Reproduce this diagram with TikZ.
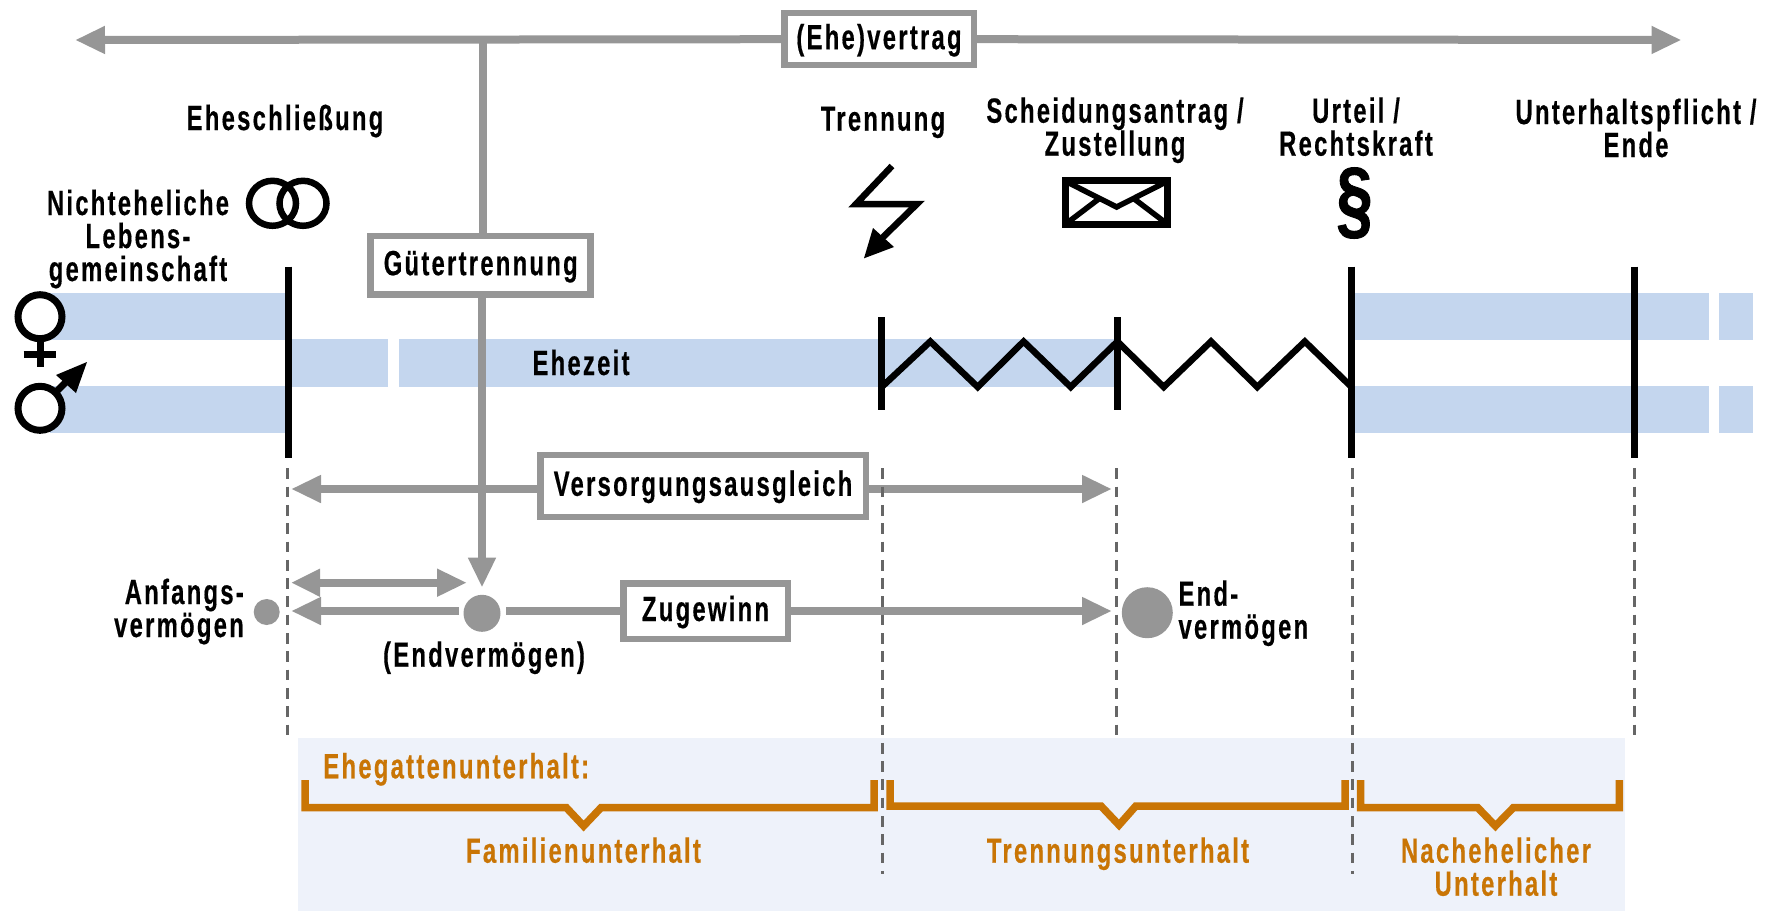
\documentclass[tikz,border=0pt]{standalone}
\usepackage{fontspec}
\usetikzlibrary{arrows.meta}
\newfontfamily\lab[FakeStretch=0.68,LetterSpace=6.5,FakeBold=0.4]{Liberation Sans}
\newfontfamily\para[FakeStretch=0.74,FakeBold=1]{Liberation Sans}
\definecolor{gr}{HTML}{969696}
\definecolor{dk}{HTML}{666666}
\definecolor{bl}{HTML}{C4D6EE}
\definecolor{lb}{HTML}{EEF2FA}
\definecolor{or}{HTML}{C97505}
\newcommand\fl{\rule{0pt}{26pt}}
\tikzset{
  txt/.style={inner sep=0pt,outer sep=0pt,align=center,anchor=north,font={\lab\bfseries\fontsize{35}{33}\selectfont}},
  otxt/.style={txt,text=or},
  box/.style={draw=gr,line width=6.5pt,fill=white,inner sep=0pt,text height=26pt,text depth=6pt,font={\lab\bfseries\fontsize{35}{33}\selectfont}},
  arr/.style={draw=gr,line width=8pt,-{Triangle[length=30pt,width=26pt]}},
  plain/.style={draw=gr,line width=8pt},
  dot/.style={circle,fill=gr,inner sep=0pt},
  band/.style={fill=bl,draw=none},
  blk/.style={draw=black,line width=7pt},
  zig/.style={draw=black,line width=6.5pt,miter limit=10},
  dsh/.style={draw=dk,line width=3pt,dash pattern=on 10.7pt off 7.6pt},
  brc/.style={draw=or,line width=7.5pt,miter limit=10},
  sym/.style={draw=black,line width=6.5pt},
}
\begin{document}
\begin{tikzpicture}[x=1pt,y=-1pt]
\useasboundingbox (0,0) rectangle (1767,911);
% background
\fill[lb] (298,737.7) rectangle (1625,911);
\fill[band] (50,292.7) rectangle (286,340);
\fill[band] (50,386) rectangle (286,433.3);
\fill[band] (290,339) rectangle (388,387.3);
\fill[band] (399,339) rectangle (1117,387.3);
\fill[band] (1354.5,292.7) rectangle (1708.5,340);
\fill[band] (1719,292.7) rectangle (1752.5,340);
\fill[band] (1354.5,386) rectangle (1708.5,433.3);
\fill[band] (1719,386) rectangle (1752.5,433.3);
% coordinates
\coordinate (topL) at (75,40);
\coordinate (topR) at (1681.5,40);
\coordinate (topJ) at (482.5,40);
\coordinate (vL) at (291,489);
\coordinate (vR) at (1112,489);
\coordinate (dA) at (291,582.7);
\coordinate (dB) at (467,582.7);
\coordinate (aT) at (291,611);
\coordinate (dL) at (458.5,611);
\coordinate (dR) at (506,611);
\coordinate (eT) at (1112,611);
% dashed guides
\coordinate (d1a) at (287.6,468.3); \coordinate (d1b) at (287.6,740);
\coordinate (d2a) at (882,468.3);   \coordinate (d2b) at (882,874);
\coordinate (d3a) at (1116.6,468.3);\coordinate (d3b) at (1116.6,740);
\coordinate (d4a) at (1352.6,468.3);\coordinate (d4b) at (1352.6,874);
\coordinate (d5a) at (1634.3,468.3);\coordinate (d5b) at (1634.3,740);
% dots
\node[dot,minimum size=37pt] (mid) at (482,613.3) {};
\node[dot,minimum size=26pt] (anf) at (266.7,612) {};
\node[dot,minimum size=51pt] (end) at (1147.3,612.7) {};
% grey boxes and connectors
\node[box,minimum width=189.5pt,minimum height=52pt] (ehe) at (879,39.2) {(Ehe)vertrag};
\node[box,minimum width=220pt,minimum height=58.5pt] (gue) at (480.7,265.2) {Gütertrennung};
\node[box,minimum width=325.5pt,minimum height=62pt] (ver) at (703,485.8) {Versorgungsausgleich};
\node[box,minimum width=164.5pt,minimum height=55.5pt] (zug) at (705.5,611) {Zugewinn};
\draw[arr] (ehe.west) -- (topL);
\draw[arr] (ehe.east) -- (topR);
\draw[plain] (topJ) -- (topJ |- gue.north);
\draw[arr,shorten >=7pt] (gue.south -| mid.north) -- (mid.north);
\draw[arr] (ver.west |- vL) -- (vL);
\draw[arr] (ver.east |- vR) -- (vR);
\draw[draw=gr,line width=8pt,{Triangle[length=29pt,width=26pt]}-{Triangle[length=30pt,width=26pt]}] (dA) -- (dB);
\draw[arr] (dL) -- (aT);
\draw[plain] (dR) -- (zug.west);
\draw[arr] (zug.east) -- (eT);
\draw[dsh] (d1a) -- (d1b);
\draw[dsh] (d2a) -- (d2b);
\draw[dsh] (d3a) -- (d3b);
\draw[dsh] (d4a) -- (d4b);
\draw[dsh] (d5a) -- (d5b);
% black markers
\draw[blk] (288,266.7) -- (288,458.3);
\draw[blk] (881.7,317.3) -- (881.7,410);
\draw[blk] (1117.4,317.3) -- (1117.4,410);
\draw[blk] (1351.5,266.7) -- (1351.5,458.3);
\draw[blk] (1634.7,266.7) -- (1634.7,458.3);
\draw[zig] (881.7,387) -- (930.3,341.5) -- (977.7,387) -- (1023.6,341.5) -- (1070.7,387) -- (1117.4,341.5) -- (1163.7,387) -- (1211,341.5) -- (1257.3,387) -- (1304.8,341.5) -- (1351.5,387);
% symbols
\draw[sym] (272.5,203.3) circle[x radius=23.5,y radius=22.5];
\draw[sym] (303,203.3) circle[x radius=23.5,y radius=22.5];
\draw[line width=7pt,fill=white] (40,316.7) circle[radius=22];
\draw[line width=7pt] (40,339) -- (40,366.7) (23.7,354) -- (55.5,354);
\draw[line width=7pt,fill=white] (40,408.3) circle[radius=22];
\draw[line width=7pt] (56,392) -- (70,378);
\fill (87,362) -- (56,375) -- (76,393) -- cycle;
\draw[sym,miter limit=10] (892,166) -- (856,204) -- (917,204) -- (878,242);
\fill (864,258.3) -- (873,228) -- (894,247) -- cycle;
\draw[line width=7pt] (1065.5,180.2) rectangle (1167.9,224.8);
\draw[line width=5.5pt] (1067,182) -- (1116.6,207) -- (1166,182);
\draw[line width=5.5pt] (1067,223) -- (1100,198) (1166,223) -- (1133,198);
\node[inner sep=0pt,anchor=center,font={\para\bfseries\fontsize{88}{88}\selectfont}] (para) at (1354.5,203) {§};
% labels
\node[txt] (t1) at (285,104) {\fl Eheschließung};
\node[txt] (t2) at (138,189) {\fl Nichteheliche\\Lebens-\\gemeinschaft};
\node[txt] (t3) at (581,349) {\fl Ehezeit};
\node[txt] (t4) at (883,104.7) {\fl Trennung};
\node[txt] (t5) at (1115,96.7) {\fl Scheidungsantrag /\\Zustellung};
\node[txt] (t6) at (1356,96.7) {\fl Urteil /\\Rechtskraft};
\node[txt] (t7) at (1636,98) {\fl Unterhaltspflicht /\\Ende};
\node[txt,align=right,anchor=north east] (t8) at (243.8,578) {\fl Anfangs-\\vermögen};
\node[txt] (t9) at (484,640.7) {\fl (Endvermögen)};
\node[txt,align=left,anchor=north west] (t10) at (1178.5,579.7) {\fl End-\\vermögen};
\node[otxt,anchor=north west] (o1) at (323.4,752.3) {\fl Ehegattenunterhalt:};
\node[otxt] (o2) at (583.5,836.7) {\fl Familienunterhalt};
\node[otxt] (o3) at (1118,836.7) {\fl Trennungsunterhalt};
\node[otxt] (o4) at (1496,836.7) {\fl Nachehelicher\\Unterhalt};
% braces
\draw[brc] (305,780) -- (305,807.7) -- (566.4,807.7) -- (583.6,826) -- (601,807.7) -- (874,807.7) -- (874,780);
\draw[brc] (890,780) -- (890,806) -- (1101,806) -- (1119,825) -- (1135.8,806) -- (1345,806) -- (1345,780);
\draw[brc] (1360.6,780) -- (1360.6,807.7) -- (1477.8,807.7) -- (1495.4,826) -- (1513.3,807.7) -- (1619.4,807.7) -- (1619.4,780);
\end{tikzpicture}
\end{document}
